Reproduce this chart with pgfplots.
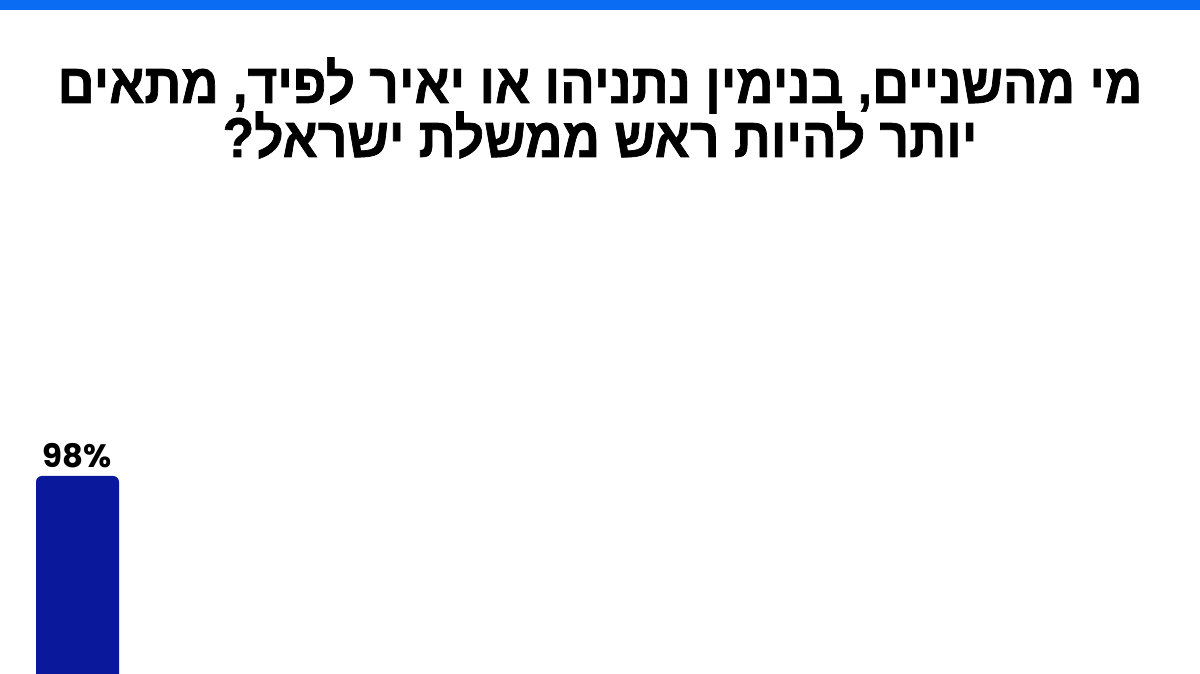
\documentclass[border=0pt]{standalone}
\usepackage{pgfplots}
\pgfplotsset{compat=1.18}
\usepackage{fontspec}
\setmainfont{Liberation Sans}
\newfontfamily\hebfont[Script=Hebrew,FakeStretch=0.92,FakeBold=1.2]{Liberation Sans Bold}
\newfontfamily\numfont{Poppins Bold}
\TeXXeTstate=1
\definecolor{band}{HTML}{0A6CF2}
\definecolor{barblue}{HTML}{0A199B}
\begin{document}
\begin{tikzpicture}
\useasboundingbox (0pt,0pt) rectangle (600pt,337pt);
\clip (0pt,0pt) rectangle (600pt,337pt);
\fill[white] (0pt,0pt) rectangle (600pt,337pt);
\fill[band] (0pt,332pt) rectangle (600pt,337pt);
\node[anchor=base,font=\hebfont\fontsize{28}{32}\selectfont] at (300pt,285.5pt) {\beginR מי מהשניים, בנימין נתניהו או יאיר לפיד, מתאים\endR};
\node[anchor=base,font=\hebfont\fontsize{28}{32}\selectfont] at (300pt,258.5pt) {\beginR יותר להיות ראש ממשלת ישראל?\endR};
\begin{axis}[
  at={(0pt,-13pt)}, anchor=south west,
  scale only axis, width=600pt, height=114.3pt,
  xmin=0, xmax=1200, ymin=0, ymax=100,
  axis lines=none, ticks=none,
  clip=false,
]
\addplot[ybar, bar width=41.5pt, fill=barblue, draw=none, rounded corners=3pt,
  nodes near coords={\numfont\fontsize{16.2}{19}\selectfont\pgfmathprintnumber[assume math mode=true]{\pgfplotspointmeta}\%},
  nodes near coords style={text=black, yshift=0.5pt}]
  coordinates {(77.5,98)};
\end{axis}
\end{tikzpicture}
\end{document}
